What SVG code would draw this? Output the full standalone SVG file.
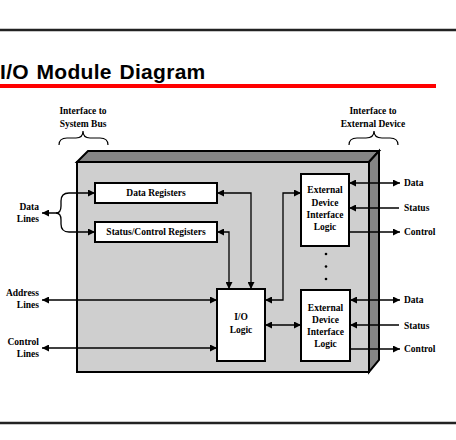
<svg xmlns="http://www.w3.org/2000/svg" width="456" height="440" viewBox="0 0 456 440">
<style>
.t{font-family:"Liberation Serif","Times New Roman",serif;font-weight:bold;font-size:9.5px;fill:#000}
.m{text-anchor:middle}
.e{text-anchor:end}
.box{fill:#fff;stroke:#000;stroke-width:2}
.c{fill:none;stroke:#000;stroke-width:1.3}
.br{fill:none;stroke:#000;stroke-width:1.2}
</style>
<defs>
<marker id="ah" viewBox="0 0 10 10" refX="10" refY="5" markerWidth="7" markerHeight="7" markerUnits="userSpaceOnUse" orient="auto-start-reverse">
<path d="M0,0 L10,5 L0,10 z" fill="#000"/>
</marker>
</defs>
<rect width="456" height="440" fill="#fff"/>
<line x1="0" y1="30" x2="456" y2="30" stroke="#222" stroke-width="2.5"/>
<text x="0" y="79" font-family="'Liberation Sans',Arial,sans-serif" font-weight="bold" font-size="21" letter-spacing="0.3" word-spacing="1.5" fill="#000">I/O Module Diagram</text>
<line x1="0" y1="86" x2="436" y2="86" stroke="#f00" stroke-width="4"/>
<line x1="0" y1="423" x2="456" y2="423" stroke="#222" stroke-width="2.5"/>

<g id="module">
<polygon points="77,162 88,151 379,151 369,162" fill="#858585" stroke="#000" stroke-width="2" stroke-linejoin="miter"/>
<polygon points="369,162 379,151 379,360 369,372" fill="#858585" stroke="#000" stroke-width="2"/>
<rect x="77" y="162" width="292" height="210" fill="#cfcfcf" stroke="#000" stroke-width="2"/>
</g>

<g id="sysbus-label">
<text class="t m" x="83" y="114">Interface to</text>
<text class="t m" x="83" y="126.5">System Bus</text>
<path class="br" d="M59,145 Q59,138 67,138 L76,138 Q83,138 83,131 Q83,138 90,138 L100,138 Q108,138 108,145"/>
</g>
<g id="extdev-label">
<text class="t m" x="373" y="114">Interface to</text>
<text class="t m" x="373" y="126.5">External Device</text>
<path class="br" d="M349,145 Q349,138 357,138 L366,138 Q374,138 374,131 Q374,138 382,138 L390,138 Q398,138 398,145"/>
</g>

<g id="data-registers">
<rect class="box" x="95" y="183" width="122" height="20"/>
<text class="t m" x="156" y="196.3">Data Registers</text>
</g>
<g id="status-registers">
<rect class="box" x="95" y="222" width="122" height="20"/>
<text class="t m" x="156" y="235.3">Status/Control Registers</text>
</g>
<g id="io-logic">
<rect class="box" x="217" y="289" width="48" height="72"/>
<text class="t m" x="241" y="320">I/O</text>
<text class="t m" x="241" y="332.5">Logic</text>
</g>
<g id="ext-logic-1">
<rect class="box" x="301" y="174" width="48" height="72"/>
<text class="t m" x="325" y="193.3">External</text>
<text class="t m" x="325" y="205.5">Device</text>
<text class="t m" x="325" y="217.7">Interface</text>
<text class="t m" x="325" y="230">Logic</text>
</g>
<g id="ext-logic-2">
<rect class="box" x="301" y="290" width="49" height="71"/>
<text class="t m" x="325.5" y="310.6">External</text>
<text class="t m" x="325.5" y="322.6">Device</text>
<text class="t m" x="325.5" y="334.6">Interface</text>
<text class="t m" x="325.5" y="347">Logic</text>
</g>
<g id="dots" fill="#000">
<circle cx="326" cy="254" r="1.3"/>
<circle cx="326" cy="266.5" r="1.3"/>
<circle cx="326" cy="279" r="1.3"/>
</g>

<g id="left-labels">
<text class="t e" x="39" y="210.3">Data</text>
<text class="t e" x="39" y="221.6">Lines</text>
<text class="t e" x="39" y="296">Address</text>
<text class="t e" x="39" y="308.3">Lines</text>
<text class="t e" x="39" y="345.3">Control</text>
<text class="t e" x="39" y="357">Lines</text>
</g>
<g id="right-labels">
<text class="t" x="404" y="186">Data</text>
<text class="t" x="404" y="211">Status</text>
<text class="t" x="404" y="235.3">Control</text>
<text class="t" x="404" y="303.3">Data</text>
<text class="t" x="404" y="328.6">Status</text>
<text class="t" x="404" y="352.3">Control</text>
</g>

<g id="connectors">
<path class="c" d="M217,193 H251 V289" marker-start="url(#ah)" marker-end="url(#ah)"/>
<path class="c" d="M217,232 H229 V289" marker-start="url(#ah)" marker-end="url(#ah)"/>
<path class="c" d="M265,300 H283 V193 H301" marker-start="url(#ah)" marker-end="url(#ah)"/>
<path class="c" d="M265,325 H301" marker-start="url(#ah)" marker-end="url(#ah)"/>
<path class="c" d="M42,300 H217" marker-start="url(#ah)" marker-end="url(#ah)"/>
<path class="c" d="M42,348 H217" marker-start="url(#ah)" marker-end="url(#ah)"/>
<path class="c" d="M42,213 H56 Q61,213 61,206 V201 Q61,193 69,193 H95" marker-start="url(#ah)" marker-end="url(#ah)"/>
<path class="c" d="M56,213 Q61,213 61,220 V224 Q61,232 69,232 H95" marker-end="url(#ah)"/>
<path class="c" d="M349,183 H400" marker-start="url(#ah)" marker-end="url(#ah)"/>
<path class="c" d="M399,208 H349" marker-end="url(#ah)"/>
<path class="c" d="M349,232 H400" marker-end="url(#ah)"/>
<path class="c" d="M350,300 H400" marker-start="url(#ah)" marker-end="url(#ah)"/>
<path class="c" d="M399,325 H350" marker-end="url(#ah)"/>
<path class="c" d="M350,349 H400" marker-end="url(#ah)"/>
</g>
</svg>
